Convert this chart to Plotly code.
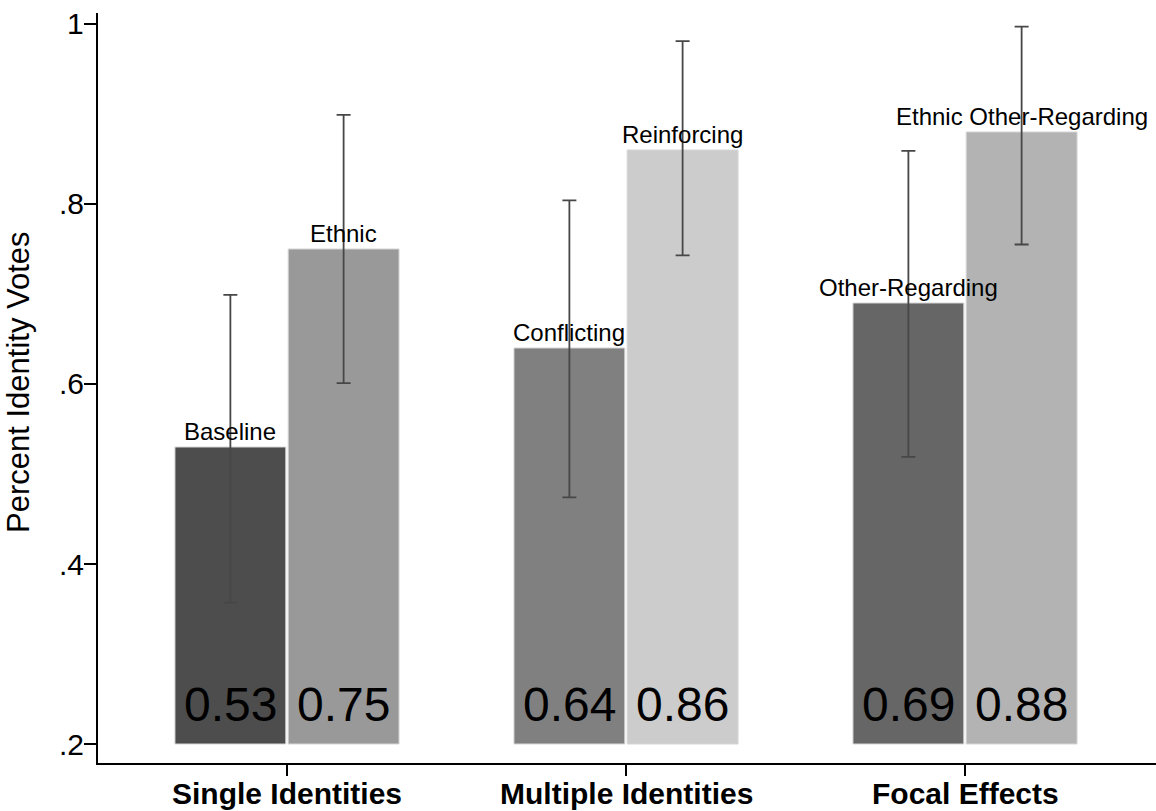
import plotly.graph_objects as go

# Groups on the x axis
groups = ["Single Identities", "Multiple Identities", "Focal Effects"]

# First bar in each group
left_names = ["Baseline", "Conflicting", "Other-Regarding"]
left_vals = [0.53, 0.64, 0.69]
left_lo = [0.357, 0.474, 0.519]
left_hi = [0.699, 0.804, 0.859]
left_colors = ["#4d4d4d", "#808080", "#666666"]

# Second bar in each group
right_names = ["Ethnic", "Reinforcing", "Ethnic Other-Regarding"]
right_vals = [0.75, 0.86, 0.88]
right_lo = [0.601, 0.743, 0.755]
right_hi = [0.899, 0.981, 0.997]
right_colors = ["#999999", "#cccccc", "#b3b3b3"]

y_ticks = [0.2, 0.4, 0.6, 0.8, 1.0]
y_ticktext = [".2", ".4", ".6", ".8", "1"]
y_title = "Percent Identity Votes"

BASE = 0.2
OFFSET = 0.167
WIDTH = 0.327
FONT = "Liberation Sans, Arial, sans-serif"

fig = go.Figure()

series = [
    (-OFFSET, left_names, left_vals, left_lo, left_hi, left_colors),
    (OFFSET, right_names, right_vals, right_lo, right_hi, right_colors),
]

for off, names, vals, lo, hi, cols in series:
    xs = [i + off for i in range(len(groups))]
    fig.add_trace(go.Bar(
        x=xs,
        y=[v - BASE for v in vals],
        base=[BASE] * len(vals),
        width=[WIDTH] * len(vals),
        marker=dict(color=cols, line=dict(color="#d6d6d6", width=1)),
        showlegend=False,
        hoverinfo="skip",
    ))
    # confidence intervals drawn at the top of each bar
    fig.add_trace(go.Scatter(
        x=xs,
        y=vals,
        mode="markers",
        marker=dict(size=1, opacity=0),
        error_y=dict(
            type="data",
            symmetric=False,
            array=[h - v for h, v in zip(hi, vals)],
            arrayminus=[v - l for v, l in zip(vals, lo)],
            color="#474747",
            thickness=1.8,
            width=7,
        ),
        showlegend=False,
        hoverinfo="skip",
    ))
    for x, name, v in zip(xs, names, vals):
        # category name above the bar
        fig.add_annotation(
            x=x, y=v, text=name, showarrow=False,
            xanchor="center", yanchor="bottom", yshift=0,
            font=dict(family=FONT, size=24, color="black"),
        )
        # value printed near the bottom of the bar
        fig.add_annotation(
            x=x, y=BASE, text=f"{v:.2f}", showarrow=False,
            xanchor="center", yanchor="bottom", yshift=11,
            font=dict(family=FONT, size=48, color="black"),
        )

# group labels under the x axis, set close to the tick marks
for i, g in enumerate(groups):
    fig.add_annotation(
        x=i, xref="x", y=0, yref="paper", text=f"<b>{g}</b>",
        showarrow=False, xanchor="center", yanchor="top", yshift=-12,
        font=dict(family=FONT, size=30, color="black"),
    )

# y tick labels hugging the tick marks
for t, lab in zip(y_ticks, y_ticktext):
    fig.add_annotation(
        x=0, xref="paper", y=t, yref="y", text=lab,
        showarrow=False, xanchor="right", yanchor="middle", xshift=-12,
        font=dict(family=FONT, size=30, color="black"),
    )

# rotated y axis title
fig.add_annotation(
    x=-0.0756, xref="paper", y=0.508, yref="paper", text=y_title,
    textangle=-90, showarrow=False, xanchor="center", yanchor="middle",
    font=dict(family=FONT, size=31, color="black"),
)

fig.update_layout(
    width=1156,
    height=811,
    margin=dict(l=98, r=0, t=13, b=48),
    paper_bgcolor="white",
    plot_bgcolor="white",
    barmode="overlay",
    font=dict(family=FONT, color="black"),
)

fig.update_xaxes(
    range=[-0.5575, 2.5634],
    tickvals=list(range(len(groups))),
    showticklabels=False,
    ticks="outside",
    ticklen=11,
    tickwidth=1.5,
    tickcolor="black",
    showline=True,
    linecolor="black",
    linewidth=2,
    showgrid=False,
    zeroline=False,
    automargin=False,
)

fig.update_yaxes(
    range=[0.1789, 1.0122],
    tickvals=y_ticks,
    showticklabels=False,
    ticks="outside",
    ticklen=12,
    tickwidth=1.5,
    tickcolor="black",
    showline=True,
    linecolor="black",
    linewidth=2,
    showgrid=False,
    zeroline=False,
    automargin=False,
)

fig.write_html("out.html")
